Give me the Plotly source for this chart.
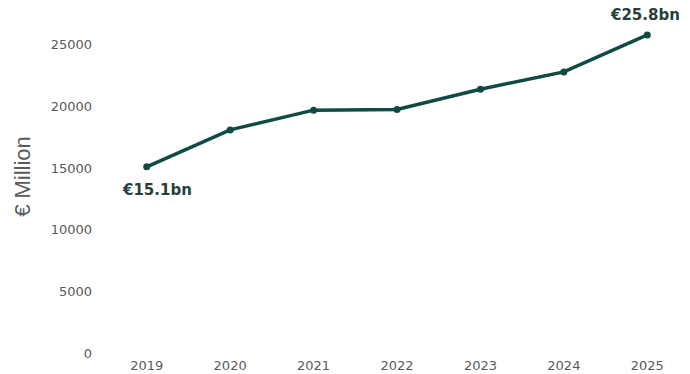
import plotly.graph_objects as go

years = ["2019", "2020", "2021", "2022", "2023", "2024", "2025"]
values = [15100, 18100, 19700, 19750, 21400, 22800, 25800]
y_ticks = [0, 5000, 10000, 15000, 20000, 25000]
first_label = "€15.1bn"
last_label = "€25.8bn"

line_color = "#0f4a44"
tick_color = "#5a5a5a"
label_color = "#27403c"

fig = go.Figure()
fig.add_trace(go.Scatter(
    x=years, y=values, mode="lines+markers",
    line=dict(color=line_color, width=3.5),
    marker=dict(color=line_color, size=7),
    hoverinfo="x+y", showlegend=False,
))

fig.add_annotation(x=0, y=values[0], xref="x", yref="y", text=first_label,
                   showarrow=False, xshift=10, yshift=-23,
                   font=dict(family="DejaVu Sans", size=15, color=label_color, weight="bold"))
fig.add_annotation(x=len(years) - 1, y=values[-1], xref="x", yref="y", text=last_label,
                   showarrow=False, xshift=-2, yshift=20,
                   font=dict(family="DejaVu Sans", size=15, color=label_color, weight="bold"))
fig.add_annotation(x=-0.165, y=0.52, xref="paper", yref="paper", text="€ Million",
                   textangle=-90, showarrow=False,
                   font=dict(family="Liberation Sans Narrow, Liberation Sans, Arial", size=22, color=tick_color))

fig.update_layout(
    width=690, height=374,
    margin=dict(l=105, r=1, t=14, b=18),
    paper_bgcolor="white", plot_bgcolor="white",
    xaxis=dict(type="category", range=[-0.5, 6.5], showgrid=False, zeroline=False,
               showline=False, ticks="", ticklabelstandoff=3,
               tickfont=dict(family="DejaVu Sans", size=13, color=tick_color)),
    yaxis=dict(range=[0, 27500], tickvals=y_ticks, tickformat="d", showgrid=False, zeroline=False,
               showline=False, ticks="", ticklabelstandoff=12,
               tickfont=dict(family="DejaVu Sans", size=13, color=tick_color)),
)

fig.write_html("out.html")
